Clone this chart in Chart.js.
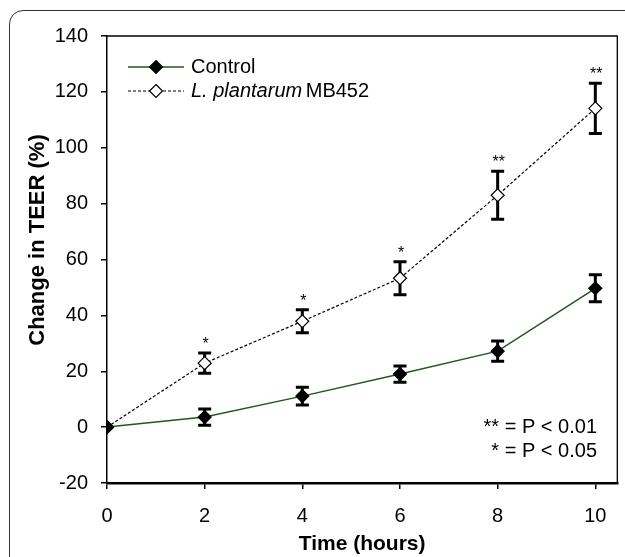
<!DOCTYPE html>
<html>
<head>
<meta charset="utf-8">
<script src="https://cdn.jsdelivr.net/npm/chart.js@4.4.0/dist/chart.umd.min.js"></script>
<style>
    body { margin: 0; background: #fff; }
    #frame { position: absolute; left: 9px; top: 10px; width: 700px; height: 700px; border: 1px solid #333; border-top-left-radius: 14px; }
    #wrap { position: absolute; left: 0; top: 0; width: 625px; height: 557px; }
</style>
</head>
<body>
<div id="frame"></div>
<div id="wrap"><canvas id="myChart" width="625" height="557"></canvas></div>
<script>
// data
const hours = [0, 2, 4, 6, 8, 10];
const control = [0, 3.6, 11.1, 19, 27.2, 49.7];
const controlErr = [0, 2.9, 3.2, 2.9, 3.6, 4.8];
const plantarum = [0, 22.9, 37.9, 53.3, 83, 114.1];
const plantarumErr = [0, 3.6, 4.1, 5.9, 8.6, 9];
const stars = ['', '*', '*', '*', '**', '**'];
const xTicks = [0, 2, 4, 6, 8, 10];
const yTicks = [-20, 0, 20, 40, 60, 80, 100, 120, 140];
const pLabels = ['** = P < 0.01', '* = P < 0.05'];
const yTitle = 'Change in TEER (%)';

const FONT = "'Liberation Sans', Arial, sans-serif";

function toPoints(ys) {
    return hours.map((h, i) => ({ x: h, y: ys[i] }));
}

// error bars under the markers
const errorBars = {
    id: 'errorBars',
    beforeDatasetsDraw(chart) {
        const ctx = chart.ctx;
        const x = chart.scales.x, y = chart.scales.y;
        const sets = [[control, controlErr], [plantarum, plantarumErr]];
        ctx.save();
        ctx.strokeStyle = '#000';
        ctx.lineWidth = 3;
        sets.forEach(([vals, errs]) => {
            vals.forEach((v, i) => {
                if (!errs[i]) return;
                const px = x.getPixelForValue(hours[i]);
                const top = y.getPixelForValue(v + errs[i]);
                const bot = y.getPixelForValue(v - errs[i]);
                ctx.beginPath();
                ctx.moveTo(px, top); ctx.lineTo(px, bot);
                ctx.moveTo(px - 6.5, top); ctx.lineTo(px + 6.5, top);
                ctx.moveTo(px - 6.5, bot); ctx.lineTo(px + 6.5, bot);
                ctx.stroke();
            });
        });
        ctx.restore();
    }
};

function diamond(ctx, cx, cy, r, fill) {
    ctx.beginPath();
    ctx.moveTo(cx, cy - r); ctx.lineTo(cx + r, cy);
    ctx.lineTo(cx, cy + r); ctx.lineTo(cx - r, cy);
    ctx.closePath();
    ctx.fillStyle = fill;
    ctx.fill();
    ctx.lineWidth = 1.2;
    ctx.strokeStyle = '#000';
    ctx.stroke();
}

// box, legend, stars, y title and p-value note
const extras = {
    id: 'extras',
    afterDraw(chart) {
        const ctx = chart.ctx;
        const a = chart.chartArea;
        const x = chart.scales.x, y = chart.scales.y;
        ctx.save();
        ctx.strokeStyle = '#000';
        ctx.lineWidth = 1.3;
        ctx.beginPath();
        ctx.moveTo(a.left, a.top); ctx.lineTo(a.right, a.top); ctx.lineTo(a.right, a.bottom);
        ctx.stroke();

        // significance stars
        ctx.fillStyle = '#000';
        ctx.font = '16px ' + FONT;
        ctx.textAlign = 'center';
        ctx.textBaseline = 'alphabetic';
        stars.forEach((s, i) => {
            if (!s) return;
            const px = x.getPixelForValue(hours[i]);
            const top = y.getPixelForValue(plantarum[i] + plantarumErr[i]);
            ctx.fillText(s, px + 1, top - 4);
        });

        // legend
        const lx = 128, lx2 = 184, r1 = 67, r2 = 91;
        ctx.lineWidth = 1.5;
        ctx.strokeStyle = '#1e5a1e';
        ctx.setLineDash([]);
        ctx.beginPath(); ctx.moveTo(lx, r1); ctx.lineTo(lx2, r1); ctx.stroke();
        diamond(ctx, (lx + lx2) / 2, r1, 6.5, '#000');
        ctx.strokeStyle = '#000';
        ctx.lineWidth = 1.2;
        ctx.setLineDash([3, 2]);
        ctx.beginPath(); ctx.moveTo(lx, r2); ctx.lineTo(lx2, r2); ctx.stroke();
        ctx.setLineDash([]);
        diamond(ctx, (lx + lx2) / 2, r2, 6.5, '#fff');

        ctx.fillStyle = '#000';
        ctx.textAlign = 'left';
        ctx.textBaseline = 'middle';
        ctx.font = '20px ' + FONT;
        ctx.fillText('Control', 191, r1);
        ctx.font = 'italic 20px ' + FONT;
        ctx.fillText('L. plantarum', 191, r2);
        const w = ctx.measureText('L. plantarum ').width;
        ctx.font = '20px ' + FONT;
        ctx.fillText('MB452', 191 + w - 2, r2);

        // p values
        ctx.textAlign = 'right';
        ctx.fillText(pLabels[0], 597, 427);
        ctx.fillText(pLabels[1], 597, 451);

        // y axis title
        ctx.translate(38, 240);
        ctx.rotate(-Math.PI / 2);
        ctx.textAlign = 'center';
        ctx.font = 'bold 22px ' + FONT;
        ctx.fillText(yTitle, 0, 0);
        ctx.restore();
    }
};

function makeChart() {
    const ctx = document.getElementById('myChart').getContext('2d');
    return new Chart(ctx, {
        type: 'line',
        data: {
            datasets: [{
                label: 'Control',
                data: toPoints(control),
                borderColor: '#1e5a1e',
                borderWidth: 1.5,
                pointStyle: 'rectRot',
                pointRadius: 6.5,
                pointBackgroundColor: '#000',
                pointBorderColor: '#000',
                pointBorderWidth: 1.2,
                tension: 0
            }, {
                label: 'L. plantarum MB452',
                data: toPoints(plantarum),
                borderColor: '#000',
                borderWidth: 1.2,
                borderDash: [3, 2],
                pointStyle: 'rectRot',
                pointRadius: 6.5,
                pointBackgroundColor: '#fff',
                pointBorderColor: '#000',
                pointBorderWidth: 1.2,
                tension: 0
            }]
        },
        options: {
            responsive: false,
            animation: false,
            layout: { padding: { top: 36, right: 5, left: 0, bottom: 0 } },
            plugins: { legend: { display: false }, tooltip: { enabled: false } },
            scales: {
                x: {
                    type: 'linear',
                    min: 0,
                    max: 10.45,
                    afterBuildTicks: s => { s.ticks = xTicks.map(v => ({ value: v })); },
                    afterFit: s => { s.height = 74; },
                    grid: { drawOnChartArea: false, drawTicks: true, tickLength: 6, color: '#000', lineWidth: 1.5 },
                    border: { color: '#000', width: 2.5 },
                    ticks: { color: '#000', font: { family: FONT, size: 20 }, padding: 15, maxRotation: 0 },
                    title: { display: true, text: 'Time (hours)', color: '#000', font: { family: FONT, size: 21, weight: 'bold' }, padding: { top: 0, bottom: 0 } }
                },
                y: {
                    min: -20,
                    max: 140,
                    afterBuildTicks: s => { s.ticks = yTicks.map(v => ({ value: v })); },
                    afterFit: s => { s.width = 107; },
                    grid: { drawOnChartArea: false, drawTicks: true, tickLength: 6, color: '#000', lineWidth: 1.5 },
                    border: { color: '#000', width: 1.5 },
                    ticks: { color: '#000', font: { family: FONT, size: 20 }, padding: 13 }
                }
            }
        },
        plugins: [errorBars, extras]
    });
}

makeChart();
</script>
</body>
</html>
